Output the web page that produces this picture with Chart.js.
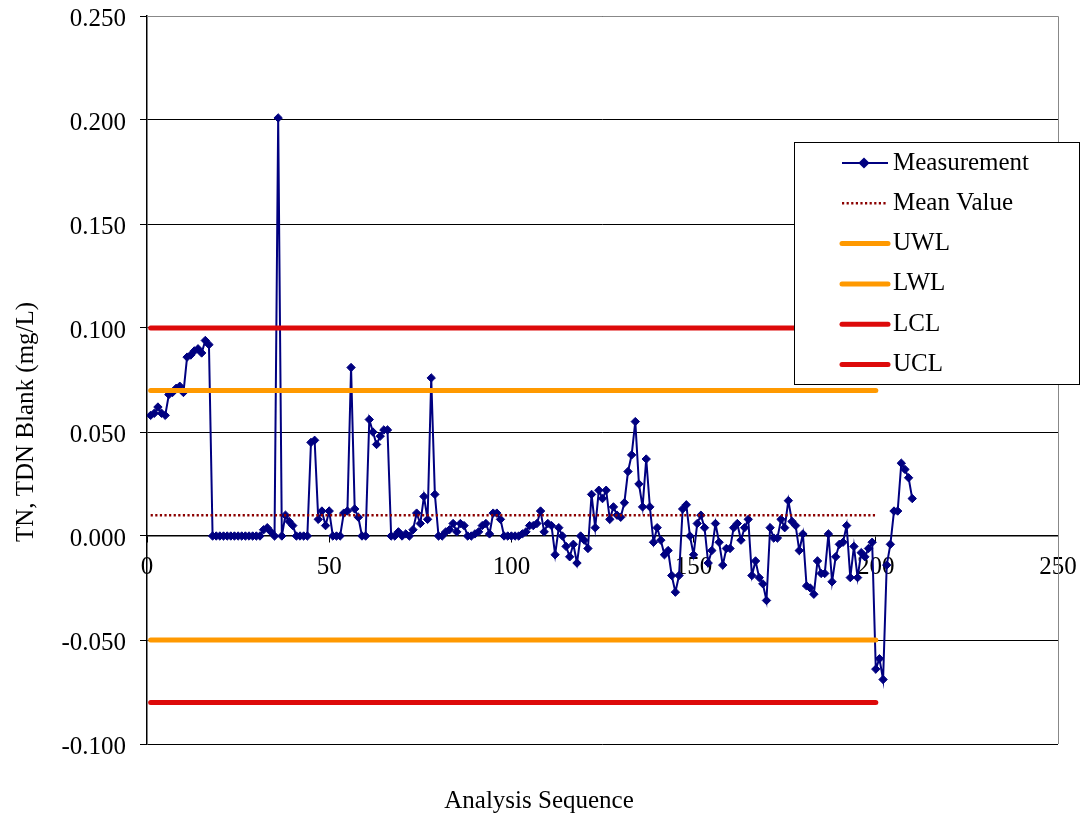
<!DOCTYPE html>
<html>
<head>
<meta charset="utf-8">
<title>TN, TDN Blank control chart</title>
<script src="https://cdn.jsdelivr.net/npm/chart.js@4.4.1/dist/chart.umd.min.js"></script>
<style>
  html, body { margin: 0; padding: 0; background: #fff; }
  #wrap { width: 1082px; height: 821px; }
</style>
</head>
<body>
<div id="wrap"><canvas id="chart" width="1082" height="821"></canvas></div>
<script>
// TN / TDN blank control chart (Excel style)

// blank results in analysis order (sequence 1, 2, 3 ...)
const measurement = [
  0.058, 0.059, 0.062, 0.059, 0.058, 0.068, 0.069, 0.071, 0.072, 0.069,
  0.086, 0.087, 0.089, 0.090, 0.088, 0.094, 0.092,
  0, 0, 0, 0, 0, 0, 0, 0, 0, 0, 0, 0, 0, 0,
  0.003, 0.004, 0.002, 0.000, 0.201, 0.000, 0.010, 0.007, 0.005, 0.000,
  0.000, 0.000, 0.000, 0.045, 0.046, 0.008, 0.012, 0.005, 0.012,
  0.000, 0.000, 0.000, 0.011, 0.012, 0.081, 0.013, 0.009, 0.000, 0.000,
  0.056, 0.050, 0.044, 0.048, 0.051, 0.051,
  0.000, 0.000, 0.002, 0.000, 0.001, 0.000, 0.003, 0.011, 0.006, 0.019,
  0.008, 0.076, 0.020,
  0.000, 0.000, 0.002, 0.003, 0.006, 0.002, 0.006, 0.005, 0.000, 0.000,
  0.001, 0.002, 0.005, 0.006, 0.001, 0.011, 0.011, 0.008, 0.000, 0.000,
  0.000, 0.000, 0.000, 0.001, 0.002, 0.005, 0.005, 0.006,
  0.012, 0.002, 0.006, 0.005, -0.009, 0.004, 0.000, -0.005, -0.010, -0.004,
  -0.013, 0.000, -0.002, -0.006, 0.020, 0.004, 0.022, 0.018, 0.022, 0.008,
  0.014, 0.010, 0.009, 0.016, 0.031, 0.039, 0.055, 0.025, 0.014, 0.037,
  0.014, -0.003, 0.004, -0.002, -0.009, -0.007, -0.019, -0.027, -0.019, 0.013,
  0.015,
  0.000, -0.009, 0.006, 0.010, 0.004, -0.013, -0.007, 0.006, -0.003, -0.014,
  -0.006, -0.006, 0.004, 0.006, -0.002, 0.004, 0.008, -0.019, -0.012, -0.020,
  -0.023, -0.031, 0.004, -0.001, -0.001, 0.008, 0.004, 0.017, 0.007, 0.005,
  -0.007, 0.001, -0.024, -0.025, -0.028, -0.012, -0.018, -0.018, 0.001, -0.022,
  -0.010, -0.004, -0.003, 0.005, -0.020, -0.005, -0.020, -0.008, -0.010, -0.006,
  -0.003, -0.064, -0.059, -0.069, -0.014, -0.004, 0.012, 0.012, 0.035, 0.032,
  0.028, 0.018
];

const meanValue = 0.010;
const limitNames = ['UWL', 'LWL', 'LCL', 'UCL'];
const limitValues = [0.070, -0.050, -0.080, 0.100];
const limitSpan = [1, 200];            // sequence range the reference lines cover

const xTickValues = [0, 50, 100, 150, 200, 250];
const yTickValues = [-0.100, -0.050, 0.000, 0.050, 0.100, 0.150, 0.200, 0.250];

const FONT_FAMILY = '"Liberation Serif", "Times New Roman", serif';
const ORANGE = '#FF9900';
const RED = '#DD0A0A';

const hline = v => limitSpan.map(x => ({ x, y: v }));

const datasets = [
  {
    label: 'Measurement',
    data: measurement.map((y, i) => ({ x: i + 1, y })),
    borderColor: '#000080',
    backgroundColor: '#000080',
    borderWidth: 2,
    pointStyle: 'rectRot',
    pointRadius: 4.2,
    pointBorderWidth: 1,
    order: 10
  },
  {
    label: 'Mean Value',
    data: hline(meanValue),
    borderColor: '#8B0000',
    borderWidth: 2.4,
    borderDash: [2.2, 2.4],
    pointRadius: 0,
    order: 1
  },
  ...limitNames.map((name, k) => ({
    label: name,
    data: hline(limitValues[k]),
    borderColor: name.endsWith('WL') ? ORANGE : RED,
    borderWidth: 5,
    borderCapStyle: 'round',
    pointRadius: 0,
    order: 2
  }))
];

// no extra room for overhanging tick labels: the layout padding sets the plot box
const noPadding = s => { s.paddingLeft = s.paddingRight = s.paddingTop = s.paddingBottom = 0; };

// plot frame, axis titles and the boxed legend
const decorations = {
  id: 'decorations',
  beforeDatasetsDraw(chart) {
    const { ctx, chartArea: a } = chart;
    ctx.save();
    ctx.strokeStyle = '#888';
    ctx.lineWidth = 1;
    ctx.beginPath();
    ctx.moveTo(a.left, a.top + 0.5);
    ctx.lineTo(a.right + 0.5, a.top + 0.5);
    ctx.lineTo(a.right + 0.5, a.bottom);
    ctx.stroke();
    ctx.restore();
  },
  afterDraw(chart) {
    const { ctx } = chart;
    ctx.save();
    ctx.fillStyle = '#000';
    ctx.font = `25px ${FONT_FAMILY}`;
    ctx.textAlign = 'center';
    ctx.textBaseline = 'middle';
    ctx.fillText('Analysis Sequence', 539, 801);

    ctx.translate(26, 422);
    ctx.rotate(-Math.PI / 2);
    ctx.fillText('TN, TDN Blank (mg/L)', 0, 0);
    ctx.restore();

    // legend box
    const box = { x: 794, y: 142, w: 286, h: 243 };
    ctx.save();
    ctx.fillStyle = '#fff';
    ctx.fillRect(box.x, box.y, box.w, box.h);
    ctx.strokeStyle = '#000';
    ctx.lineWidth = 1;
    ctx.strokeRect(box.x + 0.5, box.y + 0.5, box.w - 1, box.h - 1);

    ctx.font = `25px ${FONT_FAMILY}`;
    ctx.textAlign = 'left';
    ctx.textBaseline = 'middle';
    chart.data.datasets.forEach((ds, i) => {
      const y = 163 + i * 40.3;
      ctx.save();
      ctx.strokeStyle = ds.borderColor;
      ctx.lineWidth = ds.borderWidth;
      ctx.lineCap = ds.borderCapStyle || 'butt';
      ctx.setLineDash(ds.borderDash || []);
      ctx.beginPath();
      ctx.moveTo(842, y);
      ctx.lineTo(888, y);
      ctx.stroke();
      ctx.setLineDash([]);
      if (ds.pointRadius) {
        ctx.fillStyle = ds.backgroundColor;
        Chart.helpers.drawPoint(ctx, {
          pointStyle: ds.pointStyle, radius: ds.pointRadius, borderWidth: 1, rotation: 0
        }, 864, y);
      }
      ctx.restore();
      ctx.fillStyle = '#000';
      ctx.fillText(ds.label, 893, y);
    });
    ctx.restore();
  }
};

new Chart(document.getElementById('chart'), {
  type: 'line',
  data: { datasets },
  plugins: [decorations],
  options: {
    responsive: false,
    animation: false,
    layout: { padding: { left: 0, top: 16, right: 24, bottom: 77 } },
    plugins: { legend: { display: false }, tooltip: { enabled: false } },
    scales: {
      x: {
        type: 'linear',
        position: { y: 0 },
        min: 0,
        max: 250,
        afterBuildTicks: s => { s.ticks = xTickValues.map(value => ({ value })); },
        afterFit: noPadding,
        grid: { drawOnChartArea: false, drawTicks: true, tickLength: 6, color: '#000' },
        border: { display: true, color: '#000', width: 1.5 },
        ticks: {
          autoSkip: false, maxRotation: 0, color: '#000', padding: 10,
          font: { family: FONT_FAMILY, size: 25 }
        }
      },
      y: {
        type: 'linear',
        min: -0.1,
        max: 0.25,
        afterBuildTicks: s => { s.ticks = yTickValues.map(value => ({ value })); },
        afterFit: s => { noPadding(s); s.width = 147; },
        grid: { color: '#000', lineWidth: 1, tickLength: 7 },
        border: { display: true, color: '#000', width: 1.5 },
        ticks: {
          color: '#000', padding: 14, labelOffset: 3,
          font: { family: FONT_FAMILY, size: 25 },
          callback: v => v.toFixed(3)
        }
      }
    }
  }
});
</script>
</body>
</html>
